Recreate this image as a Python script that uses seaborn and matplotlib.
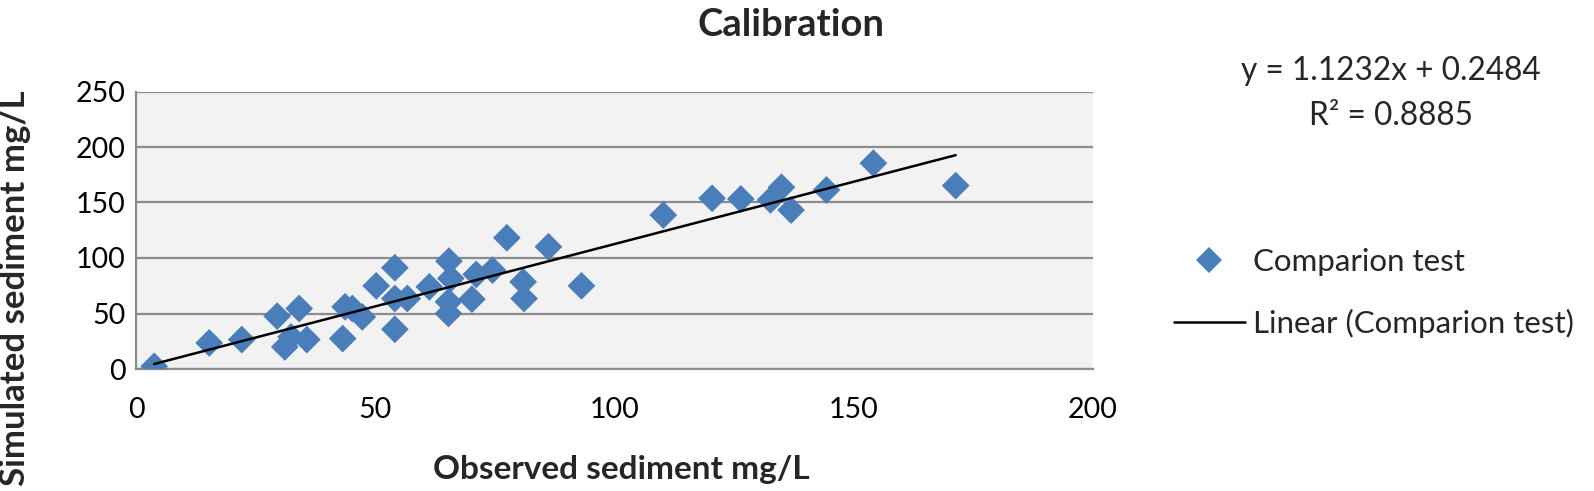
import numpy as np
import pandas as pd
import matplotlib
matplotlib.use("Agg")
import matplotlib.pyplot as plt
import seaborn as sns
from matplotlib.lines import Line2D

# ---- data ----
observed = [3.8, 15.3, 22.1, 29.5, 34.1, 31.1, 32.4, 35.7, 43.2, 43.7, 45.2,
            47.3, 50.2, 54.1, 54.1, 54.1, 56.7, 61.3, 65.4, 65.8, 65.3, 65.3,
            70.2, 71.1, 74.5, 77.5, 80.9, 81.1, 86.2, 93.1, 110.2, 120.4,
            126.4, 132.6, 134.9, 136.9, 144.3, 154.1, 171.3]
simulated = [2.4, 23.5, 26.5, 47.6, 54.5, 19.9, 28.9, 26.5, 27.4, 56.0, 54.5,
             46.9, 74.9, 91.2, 63.5, 35.8, 63.5, 74.0, 97.2, 81.6, 60.5, 50.0,
             62.9, 85.2, 89.1, 118.2, 78.5, 63.5, 110.1, 74.9, 138.7, 153.8,
             153.2, 152.3, 163.7, 143.2, 161.3, 185.4, 165.2]
slope = 1.1232
intercept = 0.2484
r_squared = 0.8885
x_ticks = [0, 50, 100, 150, 200]
y_ticks = [0, 50, 100, 150, 200, 250]
series_name = "Comparion test"
trend_name = "Linear (Comparion test)"

df = pd.DataFrame({"obs": observed, "sim": simulated})
trend_x = np.array([min(observed), max(observed)])
trend = pd.DataFrame({"x": trend_x, "y": slope * trend_x + intercept})

sns.set_style("white")
plt.rcParams["font.family"] = ["Lato", "DejaVu Sans"]

W, H = 1594, 491
fig = plt.figure(figsize=(W / 100, H / 100), dpi=100)
ax = fig.add_axes([136 / W, 1 - 369 / H, (1093 - 136) / W, (369 - 91.5) / H])
ax.set_facecolor("#F2F2F2")

blue = "#4A7EBB"
grid_c = "#8C8C8C"

sns.scatterplot(data=df, x="obs", y="sim", ax=ax, marker="D", s=200,
                color=blue, edgecolor="none", linewidth=0, zorder=3,
                legend=False)
sns.lineplot(data=trend, x="x", y="y", ax=ax, color="black", linewidth=1.8,
             zorder=4, legend=False)

ax.set_xlim(0, 200)
ax.set_ylim(0, 250)
ax.set_xticks(x_ticks)
ax.set_yticks(y_ticks)
ax.yaxis.grid(True, color=grid_c, linewidth=1.6)
ax.xaxis.grid(False)
ax.set_axisbelow(True)
for s in ["top", "right"]:
    ax.spines[s].set_visible(False)
for s in ["left", "bottom"]:
    ax.spines[s].set_color(grid_c)
    ax.spines[s].set_linewidth(1.6)
ax.tick_params(axis="both", direction="out", length=7, width=1.6,
               color=grid_c, labelsize=20.5, labelcolor="black")
ax.tick_params(axis="y", pad=0.5)
ax.tick_params(axis="x", pad=13)
ax.set_xlabel("")
ax.set_ylabel("")

fig.text(778 / 1568, 1 - 25 / H, "Calibration", ha="center", va="center",
         fontsize=27.5, fontweight="bold")
fig.text(621 / W, 1 - 470 / H, "Observed sediment mg/L", ha="center",
         va="center", fontsize=24, fontweight="bold")
fig.text(15 / W, 1 - 288 / H, "Simulated sediment mg/L", ha="center",
         va="center", rotation=90, fontsize=25, fontweight="bold")

fig.text(1391 / W, 1 - 71 / H, f"y = {slope:.4f}x + {intercept:.4f}",
         ha="center", va="center", fontsize=22.8)
fig.text(1391 / W, 1 - 116 / H, f"R² = {r_squared:.4f}", ha="center",
         va="center", fontsize=22.8)

handles = [
    Line2D([], [], marker="D", linestyle="none", color=blue, markersize=13,
           markeredgewidth=0),
    Line2D([], [], color="black", linewidth=1.8),
]
fig.legend(handles, [series_name, trend_name], loc="center left",
           bbox_to_anchor=(1174 / W, 1 - 293 / H), frameon=False,
           fontsize=22.5, handlelength=2.27, handletextpad=0.25,
           labelspacing=1.05, borderaxespad=0, borderpad=0)

fig.savefig("out.png", dpi=100)
